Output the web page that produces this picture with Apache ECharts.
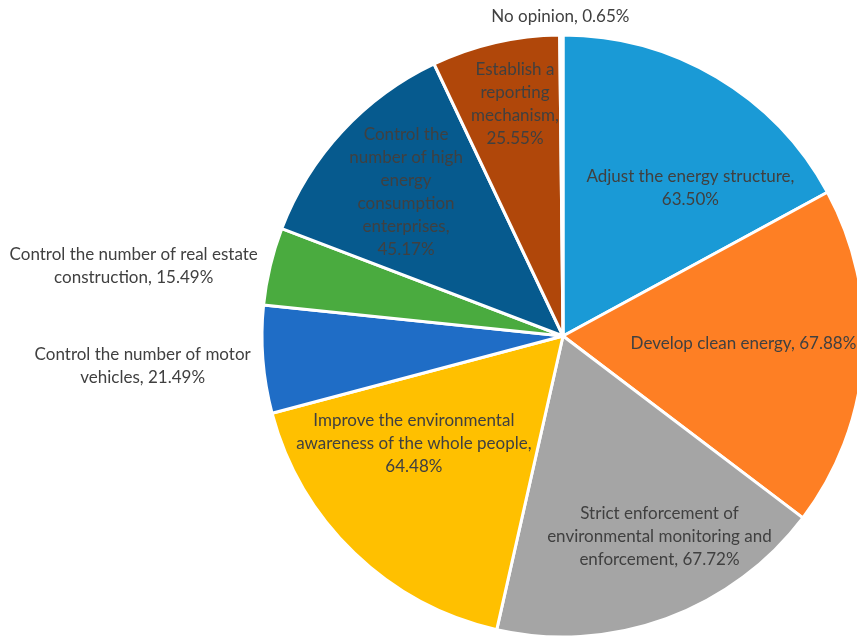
<!DOCTYPE html>
<html>
<head>
<meta charset="utf-8">
<script src="https://cdn.jsdelivr.net/npm/echarts@6/dist/echarts.min.js"></script>
<style>
  html, body { margin: 0; padding: 0; background: #ffffff; }
  #chart { width: 857px; height: 640px; }
</style>
</head>
<body>
<div id="chart"></div>
<script>
// Survey answers (share of respondents, %), clockwise from 12 o'clock
const categories = [
  'Adjust the energy structure',
  'Develop clean energy',
  'Strict enforcement of\nenvironmental monitoring and\nenforcement',
  'Improve the environmental\nawareness of the whole people',
  'Control the number of motor\nvehicles',
  'Control the number of real estate\nconstruction',
  'Control the\nnumber of high\nenergy\nconsumption\nenterprises',
  'Establish a\nreporting\nmechanism',
  'No opinion'
];
const values = [63.50, 67.88, 67.72, 64.48, 21.49, 15.49, 45.17, 25.55, 0.65];

// Slice colours
const colors = ['#1a9ad6', '#fe7f24', '#a5a5a5', '#ffc000', '#1f6dc6',
                '#4aab3f', '#065a8e', '#b0470a', '#ffffff'];
// Whether the percentage starts on its own line
const valueOnNewLine = [true, false, false, true, false, false, true, true, false];

// Label placement: [angle offset from slice bisector (deg), radius fraction]
const labelPlace = [[9.9, 0.65], [-1.8, 0.60], [-5.6, 0.74], [10.4, 0.61],
                    [0.4, 1.40], [-4.2, 1.445], [-0.3, 0.707], [1.3, 0.787], [-0.15, 1.063]];

const CX = 563, CY = 336, R = 301;

const total = values.reduce((s, v) => s + v, 0);
const midAngles = [];
let acc = 0;
values.forEach(v => {
  const span = v / total * 360;
  midAngles.push(acc + span / 2);
  acc += span;
});

const chart = echarts.init(document.getElementById('chart'), null, { renderer: 'canvas' });
chart.setOption({
  backgroundColor: '#ffffff',
  animation: false,
  series: [{
    type: 'pie',
    center: [CX, CY],
    radius: R,
    startAngle: 90,
    clockwise: true,
    avoidLabelOverlap: false,
    silent: true,
    data: categories.map((name, i) => ({
      name: name,
      value: values[i],
      itemStyle: { color: colors[i] }
    })),
    itemStyle: { borderColor: '#ffffff', borderWidth: 3 },
    label: {
      show: true,
      position: 'inside',
      color: '#404040',
      fontFamily: 'Lato',
      fontSize: 17,
      lineHeight: 23,
      align: 'center',
      formatter: p => p.name + ',' + (valueOnNewLine[p.dataIndex] ? '\n' : ' ') +
                      values[p.dataIndex].toFixed(2) + '%'
    },
    labelLine: { show: false },
    labelLayout: p => {
      const i = p.dataIndex;
      const a = (midAngles[i] + labelPlace[i][0]) * Math.PI / 180;
      const r = R * labelPlace[i][1];
      return {
        x: CX + r * Math.sin(a),
        y: CY - r * Math.cos(a),
        align: 'center',
        verticalAlign: 'middle'
      };
    }
  }]
});
</script>
</body>
</html>
